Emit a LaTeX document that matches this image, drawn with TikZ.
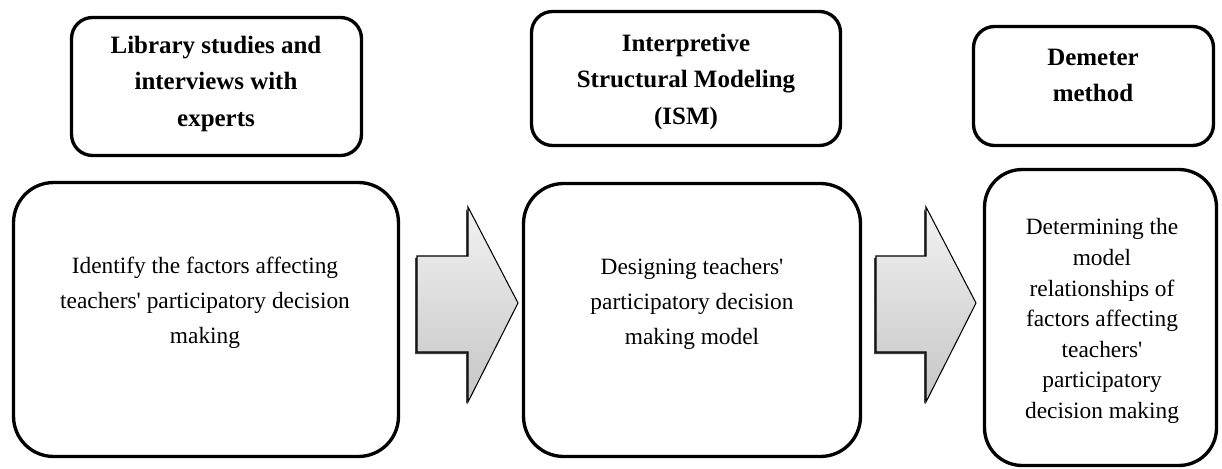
\documentclass[tikz,border=0pt]{standalone}
\usepackage{fontspec}
\setmainfont{Liberation Serif}
\begin{document}
\begin{tikzpicture}[x=0.02cm,y=-0.02cm,
  box/.style={draw, line width=1.9pt, rounded corners=#1, inner sep=0pt},
  head/.style={font=\fontsize{14.2}{20.5}\selectfont\bfseries, align=center, inner sep=0pt},
  body/.style={font=\fontsize{13.3}{19.9}\selectfont, align=center, inner sep=0pt},
  blockarrow/.style={draw=black, line width=0.6pt, top color=gray!10, bottom color=gray!45},
  arrowshadow/.style={fill=black!75, draw=none}
]
\useasboundingbox (0,0) rectangle (1222,469);

% top boxes
\node[box=0.42cm, minimum width=5.8cm, minimum height=2.76cm] (t1) at (216.5,86.5) {};
\node[box=0.42cm, minimum width=6.18cm, minimum height=2.68cm] (t2) at (686,78.5) {};
\node[box=0.42cm, minimum width=4.8cm, minimum height=2.38cm] (t3) at (1093.5,86) {};

% bottom boxes
\node[box=0.8cm, minimum width=7.7cm, minimum height=5.48cm] (b1) at (206,319.5) {};
\node[box=0.8cm, minimum width=6.74cm, minimum height=5.46cm] (b2) at (692,320) {};
\node[box=0.75cm, minimum width=4.64cm, minimum height=5.92cm] (b3) at (1100.5,317.5) {};

% texts
\node[head] (t1txt) at (216,84) {Library studies and\\interviews with\\experts};
\node[head] (t2txt) at (686,82) {Interpretive\\Structural Modeling\\(ISM)};
\node[head] (t3txt) at (1093,75) {Demeter\\method};

\node[body] (b1txt) at (205,303) {Identify the factors affecting\\teachers\textquotesingle{} participatory decision\\making};
\node[body] (b2txt) at (692,304) {Designing teachers\textquotesingle\\participatory decision\\making model};
\node[body, font=\fontsize{13.3}{17.4}\selectfont] (b3txt) at (1102,321) {Determining the\\model\\relationships of\\factors affecting\\teachers\textquotesingle\\participatory\\decision making};

% block arrows
\fill[arrowshadow] (415,258) -- (466,258) -- (466,209) -- (516,305) -- (466,404) -- (466,354) -- (415,354) -- cycle;
\path[blockarrow] (417,256) -- (468,256) -- (468,207) -- (518,303) -- (468,402) -- (468,352) -- (417,352) -- cycle;

\fill[arrowshadow] (874,258) -- (924,258) -- (924,209) -- (974,305) -- (924,404) -- (924,354) -- (874,354) -- cycle;
\path[blockarrow] (876,256) -- (926,256) -- (926,207) -- (976,303) -- (926,402) -- (926,352) -- (876,352) -- cycle;
\end{tikzpicture}
\end{document}
